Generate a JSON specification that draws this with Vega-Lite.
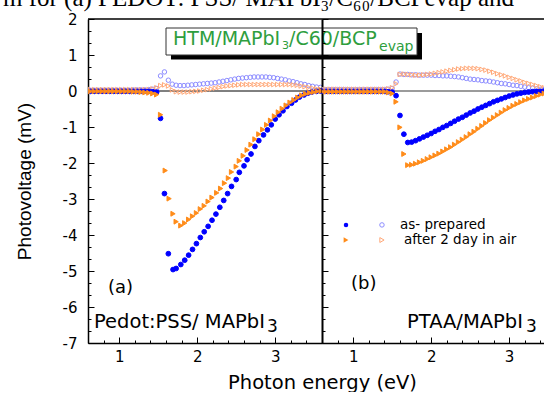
{
"$schema": "https://vega.github.io/schema/vega-lite/v6.json",
"background": "white",
"padding": {"left": 2, "top": -14, "right": 0, "bottom": 0},
"spacing": 0,
"bounds": "flush",
"config": {"view": {"stroke": null}, "font": "DejaVu Sans",
  "axis": {"grid": false, "domainColor": "black", "domainWidth": 1.5, "tickColor": "black", "tickWidth": 1, "labelColor": "black", "labelFont": "DejaVu Sans", "labelFontSize": 15, "labelOverlap": false, "labelBound": false, "labelFlush": false, "titleColor": "black", "titleFontWeight": "normal", "tickCount": 1000}},
"datasets": {
"a": [
{"s":"AO","x":0.63,"y":0.02},{"s":"AO","x":0.68,"y":0.02},{"s":"AO","x":0.73,"y":0.02},{"s":"AO","x":0.78,"y":0.02},{"s":"AO","x":0.83,"y":0.02},{"s":"AO","x":0.88,"y":0.02},{"s":"AO","x":0.93,"y":0.02},{"s":"AO","x":0.98,"y":0.02},{"s":"AO","x":1.03,"y":0.02},{"s":"AO","x":1.08,"y":0.02},{"s":"AO","x":1.13,"y":0.02},{"s":"AO","x":1.18,"y":0.03},{"s":"AO","x":1.23,"y":0.03},{"s":"AO","x":1.28,"y":0.03},{"s":"AO","x":1.33,"y":0.03},{"s":"AO","x":1.38,"y":0.04},{"s":"AO","x":1.43,"y":0.05},{"s":"AO","x":1.48,"y":0.07},
{"s":"AO","x":1.53,"y":0.42},{"s":"AO","x":1.58,"y":0.53},{"s":"AO","x":1.63,"y":0.30},{"s":"AO","x":1.68,"y":0.19},{"s":"AO","x":1.73,"y":0.16},{"s":"AO","x":1.78,"y":0.15},{"s":"AO","x":1.83,"y":0.15},{"s":"AO","x":1.88,"y":0.16},{"s":"AO","x":1.93,"y":0.17},{"s":"AO","x":1.98,"y":0.18},{"s":"AO","x":2.03,"y":0.19},{"s":"AO","x":2.08,"y":0.20},{"s":"AO","x":2.13,"y":0.21},{"s":"AO","x":2.18,"y":0.22},{"s":"AO","x":2.23,"y":0.23},{"s":"AO","x":2.28,"y":0.25},{"s":"AO","x":2.33,"y":0.27},{"s":"AO","x":2.38,"y":0.29},{"s":"AO","x":2.43,"y":0.31},{"s":"AO","x":2.48,"y":0.33},{"s":"AO","x":2.53,"y":0.35},{"s":"AO","x":2.58,"y":0.36},{"s":"AO","x":2.63,"y":0.37},{"s":"AO","x":2.68,"y":0.38},{"s":"AO","x":2.73,"y":0.39},{"s":"AO","x":2.78,"y":0.39},{"s":"AO","x":2.83,"y":0.39},{"s":"AO","x":2.88,"y":0.39},{"s":"AO","x":2.93,"y":0.38},{"s":"AO","x":2.98,"y":0.37},{"s":"AO","x":3.03,"y":0.35},{"s":"AO","x":3.08,"y":0.33},{"s":"AO","x":3.13,"y":0.31},{"s":"AO","x":3.18,"y":0.28},{"s":"AO","x":3.23,"y":0.26},{"s":"AO","x":3.28,"y":0.23},{"s":"AO","x":3.33,"y":0.20},{"s":"AO","x":3.38,"y":0.18},{"s":"AO","x":3.43,"y":0.15},{"s":"AO","x":3.48,"y":0.13},{"s":"AO","x":3.53,"y":0.11},{"s":"AO","x":3.58,"y":0.10},
{"s":"TO","x":0.63,"y":0.04},{"s":"TO","x":0.68,"y":0.04},{"s":"TO","x":0.73,"y":0.04},{"s":"TO","x":0.78,"y":0.04},{"s":"TO","x":0.83,"y":0.04},{"s":"TO","x":0.88,"y":0.04},{"s":"TO","x":0.93,"y":0.04},{"s":"TO","x":0.98,"y":0.04},{"s":"TO","x":1.03,"y":0.04},{"s":"TO","x":1.08,"y":0.04},{"s":"TO","x":1.13,"y":0.04},{"s":"TO","x":1.18,"y":0.04},{"s":"TO","x":1.23,"y":0.04},{"s":"TO","x":1.28,"y":0.04},{"s":"TO","x":1.33,"y":0.04},{"s":"TO","x":1.38,"y":0.04},{"s":"TO","x":1.43,"y":0.06},{"s":"TO","x":1.48,"y":0.09},
{"s":"TO","x":1.53,"y":0.15},{"s":"TO","x":1.58,"y":0.17},{"s":"TO","x":1.63,"y":0.14},{"s":"TO","x":1.68,"y":0.03},{"s":"TO","x":1.73,"y":-0.02},{"s":"TO","x":1.78,"y":-0.03},{"s":"TO","x":1.83,"y":-0.03},{"s":"TO","x":1.88,"y":-0.03},{"s":"TO","x":1.93,"y":-0.02},{"s":"TO","x":1.98,"y":-0.01},{"s":"TO","x":2.03,"y":0.0},{"s":"TO","x":2.08,"y":0.02},{"s":"TO","x":2.13,"y":0.04},{"s":"TO","x":2.18,"y":0.06},{"s":"TO","x":2.23,"y":0.08},{"s":"TO","x":2.28,"y":0.10},{"s":"TO","x":2.33,"y":0.12},{"s":"TO","x":2.38,"y":0.14},{"s":"TO","x":2.43,"y":0.15},{"s":"TO","x":2.48,"y":0.16},{"s":"TO","x":2.53,"y":0.17},{"s":"TO","x":2.58,"y":0.18},{"s":"TO","x":2.63,"y":0.18},{"s":"TO","x":2.68,"y":0.18},{"s":"TO","x":2.73,"y":0.18},{"s":"TO","x":2.78,"y":0.18},{"s":"TO","x":2.83,"y":0.18},{"s":"TO","x":2.88,"y":0.18},{"s":"TO","x":2.93,"y":0.18},{"s":"TO","x":2.98,"y":0.18},{"s":"TO","x":3.03,"y":0.18},{"s":"TO","x":3.08,"y":0.18},{"s":"TO","x":3.13,"y":0.18},{"s":"TO","x":3.18,"y":0.18},{"s":"TO","x":3.23,"y":0.17},{"s":"TO","x":3.28,"y":0.16},{"s":"TO","x":3.33,"y":0.14},{"s":"TO","x":3.38,"y":0.12},{"s":"TO","x":3.43,"y":0.10},{"s":"TO","x":3.48,"y":0.08},{"s":"TO","x":3.53,"y":0.06},{"s":"TO","x":3.58,"y":0.05},
{"s":"AF","x":0.63,"y":-0.01},{"s":"AF","x":0.68,"y":-0.01},{"s":"AF","x":0.73,"y":-0.01},{"s":"AF","x":0.78,"y":-0.01},{"s":"AF","x":0.83,"y":-0.01},{"s":"AF","x":0.88,"y":-0.01},{"s":"AF","x":0.93,"y":-0.01},{"s":"AF","x":0.98,"y":-0.01},{"s":"AF","x":1.03,"y":-0.01},{"s":"AF","x":1.08,"y":-0.01},{"s":"AF","x":1.13,"y":-0.01},{"s":"AF","x":1.18,"y":-0.01},{"s":"AF","x":1.23,"y":-0.01},{"s":"AF","x":1.28,"y":-0.01},{"s":"AF","x":1.33,"y":-0.01},{"s":"AF","x":1.38,"y":-0.01},{"s":"AF","x":1.43,"y":-0.02},{"s":"AF","x":1.48,"y":-0.03},
{"s":"AF","x":1.53,"y":-0.76},{"s":"AF","x":1.58,"y":-2.85},{"s":"AF","x":1.63,"y":-4.52},{"s":"AF","x":1.69,"y":-4.96},{"s":"AF","x":1.73,"y":-4.93},{"s":"AF","x":1.79,"y":-4.82},{"s":"AF","x":1.84,"y":-4.70},{"s":"AF","x":1.89,"y":-4.56},{"s":"AF","x":1.94,"y":-4.40},{"s":"AF","x":1.99,"y":-4.24},{"s":"AF","x":2.04,"y":-4.07},{"s":"AF","x":2.09,"y":-3.91},{"s":"AF","x":2.14,"y":-3.76},{"s":"AF","x":2.19,"y":-3.59},{"s":"AF","x":2.24,"y":-3.42},{"s":"AF","x":2.29,"y":-3.23},{"s":"AF","x":2.34,"y":-3.04},{"s":"AF","x":2.39,"y":-2.85},{"s":"AF","x":2.44,"y":-2.65},{"s":"AF","x":2.50,"y":-2.46},{"s":"AF","x":2.54,"y":-2.26},{"s":"AF","x":2.60,"y":-2.08},{"s":"AF","x":2.64,"y":-1.91},{"s":"AF","x":2.69,"y":-1.75},{"s":"AF","x":2.74,"y":-1.54},{"s":"AF","x":2.79,"y":-1.38},{"s":"AF","x":2.85,"y":-1.22},{"s":"AF","x":2.90,"y":-1.08},{"s":"AF","x":2.95,"y":-0.94},{"s":"AF","x":3.00,"y":-0.78},{"s":"AF","x":3.05,"y":-0.66},{"s":"AF","x":3.10,"y":-0.55},{"s":"AF","x":3.15,"y":-0.43},{"s":"AF","x":3.21,"y":-0.34},{"s":"AF","x":3.26,"y":-0.25},{"s":"AF","x":3.31,"y":-0.17},{"s":"AF","x":3.37,"y":-0.11},{"s":"AF","x":3.42,"y":-0.06},{"s":"AF","x":3.47,"y":-0.03},{"s":"AF","x":3.53,"y":-0.01},{"s":"AF","x":3.58,"y":0.0},
{"s":"TF","x":0.63,"y":-0.01},{"s":"TF","x":0.68,"y":-0.01},{"s":"TF","x":0.73,"y":-0.01},{"s":"TF","x":0.78,"y":-0.01},{"s":"TF","x":0.83,"y":-0.01},{"s":"TF","x":0.88,"y":-0.01},{"s":"TF","x":0.93,"y":-0.01},{"s":"TF","x":0.98,"y":-0.01},{"s":"TF","x":1.03,"y":-0.01},{"s":"TF","x":1.08,"y":-0.01},{"s":"TF","x":1.13,"y":-0.01},{"s":"TF","x":1.18,"y":-0.02},{"s":"TF","x":1.23,"y":-0.02},{"s":"TF","x":1.28,"y":-0.03},{"s":"TF","x":1.33,"y":-0.04},{"s":"TF","x":1.38,"y":-0.05},{"s":"TF","x":1.43,"y":-0.07},{"s":"TF","x":1.48,"y":-0.10},
{"s":"TF","x":1.53,"y":-0.66},{"s":"TF","x":1.59,"y":-2.21},{"s":"TF","x":1.64,"y":-2.99},{"s":"TF","x":1.69,"y":-3.41},{"s":"TF","x":1.73,"y":-3.63},{"s":"TF","x":1.79,"y":-3.74},{"s":"TF","x":1.84,"y":-3.67},{"s":"TF","x":1.89,"y":-3.57},{"s":"TF","x":1.94,"y":-3.48},{"s":"TF","x":1.99,"y":-3.39},{"s":"TF","x":2.04,"y":-3.28},{"s":"TF","x":2.09,"y":-3.19},{"s":"TF","x":2.14,"y":-3.07},{"s":"TF","x":2.19,"y":-2.96},{"s":"TF","x":2.25,"y":-2.83},{"s":"TF","x":2.30,"y":-2.71},{"s":"TF","x":2.35,"y":-2.56},{"s":"TF","x":2.40,"y":-2.42},{"s":"TF","x":2.44,"y":-2.25},{"s":"TF","x":2.50,"y":-2.10},{"s":"TF","x":2.54,"y":-1.94},{"s":"TF","x":2.59,"y":-1.80},{"s":"TF","x":2.64,"y":-1.64},{"s":"TF","x":2.69,"y":-1.49},{"s":"TF","x":2.74,"y":-1.34},{"s":"TF","x":2.79,"y":-1.20},{"s":"TF","x":2.84,"y":-1.07},{"s":"TF","x":2.89,"y":-0.94},{"s":"TF","x":2.94,"y":-0.82},{"s":"TF","x":2.99,"y":-0.70},{"s":"TF","x":3.04,"y":-0.59},{"s":"TF","x":3.09,"y":-0.49},{"s":"TF","x":3.14,"y":-0.40},{"s":"TF","x":3.19,"y":-0.32},{"s":"TF","x":3.24,"y":-0.25},{"s":"TF","x":3.29,"y":-0.18},{"s":"TF","x":3.34,"y":-0.12},{"s":"TF","x":3.39,"y":-0.08},{"s":"TF","x":3.44,"y":-0.05},{"s":"TF","x":3.49,"y":-0.03},{"s":"TF","x":3.54,"y":-0.01},{"s":"TF","x":3.59,"y":0.0}
],
"b": [
{"s":"AO","x":0.60,"y":0.04},{"s":"AO","x":0.65,"y":0.04},{"s":"AO","x":0.70,"y":0.04},{"s":"AO","x":0.75,"y":0.04},{"s":"AO","x":0.80,"y":0.04},{"s":"AO","x":0.85,"y":0.04},{"s":"AO","x":0.90,"y":0.04},{"s":"AO","x":0.95,"y":0.04},{"s":"AO","x":1.00,"y":0.04},{"s":"AO","x":1.05,"y":0.04},{"s":"AO","x":1.10,"y":0.04},{"s":"AO","x":1.15,"y":0.04},{"s":"AO","x":1.20,"y":0.04},{"s":"AO","x":1.25,"y":0.04},{"s":"AO","x":1.30,"y":0.04},{"s":"AO","x":1.35,"y":0.04},{"s":"AO","x":1.40,"y":0.04},{"s":"AO","x":1.45,"y":0.05},{"s":"AO","x":1.50,"y":0.07},
{"s":"AO","x":1.55,"y":0.25},{"s":"AO","x":1.60,"y":0.47},{"s":"AO","x":1.65,"y":0.46},{"s":"AO","x":1.70,"y":0.46},{"s":"AO","x":1.75,"y":0.45},{"s":"AO","x":1.80,"y":0.45},{"s":"AO","x":1.85,"y":0.44},{"s":"AO","x":1.90,"y":0.44},{"s":"AO","x":1.95,"y":0.44},{"s":"AO","x":2.00,"y":0.44},{"s":"AO","x":2.05,"y":0.43},{"s":"AO","x":2.10,"y":0.43},{"s":"AO","x":2.15,"y":0.42},{"s":"AO","x":2.20,"y":0.42},{"s":"AO","x":2.25,"y":0.41},{"s":"AO","x":2.30,"y":0.40},{"s":"AO","x":2.35,"y":0.39},{"s":"AO","x":2.40,"y":0.37},{"s":"AO","x":2.45,"y":0.35},{"s":"AO","x":2.50,"y":0.33},{"s":"AO","x":2.55,"y":0.32},{"s":"AO","x":2.60,"y":0.31},{"s":"AO","x":2.65,"y":0.29},{"s":"AO","x":2.70,"y":0.28},{"s":"AO","x":2.75,"y":0.27},{"s":"AO","x":2.80,"y":0.25},{"s":"AO","x":2.85,"y":0.23},{"s":"AO","x":2.90,"y":0.21},{"s":"AO","x":2.95,"y":0.20},{"s":"AO","x":3.00,"y":0.18},{"s":"AO","x":3.05,"y":0.16},{"s":"AO","x":3.10,"y":0.15},{"s":"AO","x":3.15,"y":0.13},{"s":"AO","x":3.20,"y":0.11},{"s":"AO","x":3.25,"y":0.09},{"s":"AO","x":3.30,"y":0.08},{"s":"AO","x":3.35,"y":0.06},{"s":"AO","x":3.40,"y":0.05},{"s":"AO","x":3.45,"y":0.04},
{"s":"TO","x":0.60,"y":0.05},{"s":"TO","x":0.65,"y":0.05},{"s":"TO","x":0.70,"y":0.05},{"s":"TO","x":0.75,"y":0.05},{"s":"TO","x":0.80,"y":0.05},{"s":"TO","x":0.85,"y":0.05},{"s":"TO","x":0.90,"y":0.05},{"s":"TO","x":0.95,"y":0.05},{"s":"TO","x":1.00,"y":0.05},{"s":"TO","x":1.05,"y":0.05},{"s":"TO","x":1.10,"y":0.05},{"s":"TO","x":1.15,"y":0.05},{"s":"TO","x":1.20,"y":0.05},{"s":"TO","x":1.25,"y":0.05},{"s":"TO","x":1.30,"y":0.05},{"s":"TO","x":1.35,"y":0.05},{"s":"TO","x":1.40,"y":0.05},{"s":"TO","x":1.45,"y":0.06},{"s":"TO","x":1.50,"y":0.09},
{"s":"TO","x":1.55,"y":0.20},{"s":"TO","x":1.60,"y":0.46},{"s":"TO","x":1.65,"y":0.47},{"s":"TO","x":1.70,"y":0.46},{"s":"TO","x":1.75,"y":0.45},{"s":"TO","x":1.80,"y":0.44},{"s":"TO","x":1.85,"y":0.44},{"s":"TO","x":1.90,"y":0.45},{"s":"TO","x":1.95,"y":0.46},{"s":"TO","x":2.00,"y":0.47},{"s":"TO","x":2.05,"y":0.49},{"s":"TO","x":2.10,"y":0.51},{"s":"TO","x":2.15,"y":0.53},{"s":"TO","x":2.20,"y":0.55},{"s":"TO","x":2.25,"y":0.57},{"s":"TO","x":2.30,"y":0.59},{"s":"TO","x":2.35,"y":0.61},{"s":"TO","x":2.40,"y":0.62},{"s":"TO","x":2.45,"y":0.63},{"s":"TO","x":2.50,"y":0.63},{"s":"TO","x":2.55,"y":0.63},{"s":"TO","x":2.60,"y":0.62},{"s":"TO","x":2.65,"y":0.60},{"s":"TO","x":2.70,"y":0.58},{"s":"TO","x":2.75,"y":0.55},{"s":"TO","x":2.80,"y":0.52},{"s":"TO","x":2.85,"y":0.48},{"s":"TO","x":2.90,"y":0.45},{"s":"TO","x":2.95,"y":0.42},{"s":"TO","x":3.00,"y":0.38},{"s":"TO","x":3.05,"y":0.35},{"s":"TO","x":3.10,"y":0.31},{"s":"TO","x":3.15,"y":0.28},{"s":"TO","x":3.20,"y":0.24},{"s":"TO","x":3.25,"y":0.21},{"s":"TO","x":3.30,"y":0.18},{"s":"TO","x":3.35,"y":0.15},{"s":"TO","x":3.40,"y":0.12},{"s":"TO","x":3.45,"y":0.09},
{"s":"AF","x":0.60,"y":-0.01},{"s":"AF","x":0.65,"y":-0.01},{"s":"AF","x":0.70,"y":-0.01},{"s":"AF","x":0.75,"y":-0.01},{"s":"AF","x":0.80,"y":-0.01},{"s":"AF","x":0.85,"y":-0.01},{"s":"AF","x":0.90,"y":-0.01},{"s":"AF","x":0.95,"y":-0.01},{"s":"AF","x":1.00,"y":-0.01},{"s":"AF","x":1.05,"y":-0.01},{"s":"AF","x":1.10,"y":-0.01},{"s":"AF","x":1.15,"y":-0.01},{"s":"AF","x":1.20,"y":-0.01},{"s":"AF","x":1.25,"y":-0.01},{"s":"AF","x":1.30,"y":-0.01},{"s":"AF","x":1.35,"y":-0.01},{"s":"AF","x":1.40,"y":-0.01},{"s":"AF","x":1.45,"y":-0.02},{"s":"AF","x":1.50,"y":-0.03},
{"s":"AF","x":1.55,"y":-0.13},{"s":"AF","x":1.60,"y":-0.68},{"s":"AF","x":1.65,"y":-1.20},{"s":"AF","x":1.70,"y":-1.43},{"s":"AF","x":1.75,"y":-1.42},{"s":"AF","x":1.80,"y":-1.38},{"s":"AF","x":1.85,"y":-1.33},{"s":"AF","x":1.90,"y":-1.28},{"s":"AF","x":1.95,"y":-1.23},{"s":"AF","x":2.00,"y":-1.18},{"s":"AF","x":2.05,"y":-1.12},{"s":"AF","x":2.10,"y":-1.07},{"s":"AF","x":2.15,"y":-1.01},{"s":"AF","x":2.20,"y":-0.96},{"s":"AF","x":2.25,"y":-0.90},{"s":"AF","x":2.30,"y":-0.84},{"s":"AF","x":2.35,"y":-0.78},{"s":"AF","x":2.40,"y":-0.73},{"s":"AF","x":2.45,"y":-0.67},{"s":"AF","x":2.50,"y":-0.61},{"s":"AF","x":2.55,"y":-0.56},{"s":"AF","x":2.60,"y":-0.50},{"s":"AF","x":2.65,"y":-0.45},{"s":"AF","x":2.70,"y":-0.40},{"s":"AF","x":2.75,"y":-0.35},{"s":"AF","x":2.80,"y":-0.30},{"s":"AF","x":2.85,"y":-0.26},{"s":"AF","x":2.90,"y":-0.22},{"s":"AF","x":2.95,"y":-0.18},{"s":"AF","x":3.00,"y":-0.14},{"s":"AF","x":3.05,"y":-0.11},{"s":"AF","x":3.10,"y":-0.08},{"s":"AF","x":3.15,"y":-0.06},{"s":"AF","x":3.20,"y":-0.04},{"s":"AF","x":3.25,"y":-0.03},{"s":"AF","x":3.30,"y":-0.02},{"s":"AF","x":3.35,"y":-0.01},{"s":"AF","x":3.40,"y":-0.01},{"s":"AF","x":3.45,"y":0.0},
{"s":"TF","x":0.60,"y":-0.02},{"s":"TF","x":0.65,"y":-0.02},{"s":"TF","x":0.70,"y":-0.02},{"s":"TF","x":0.75,"y":-0.02},{"s":"TF","x":0.80,"y":-0.02},{"s":"TF","x":0.85,"y":-0.02},{"s":"TF","x":0.90,"y":-0.02},{"s":"TF","x":0.95,"y":-0.02},{"s":"TF","x":1.00,"y":-0.02},{"s":"TF","x":1.05,"y":-0.02},{"s":"TF","x":1.10,"y":-0.02},{"s":"TF","x":1.15,"y":-0.02},{"s":"TF","x":1.20,"y":-0.02},{"s":"TF","x":1.25,"y":-0.02},{"s":"TF","x":1.30,"y":-0.02},{"s":"TF","x":1.35,"y":-0.02},{"s":"TF","x":1.40,"y":-0.02},{"s":"TF","x":1.45,"y":-0.04},{"s":"TF","x":1.50,"y":-0.07},
{"s":"TF","x":1.55,"y":-0.30},{"s":"TF","x":1.60,"y":-1.01},{"s":"TF","x":1.65,"y":-1.75},{"s":"TF","x":1.70,"y":-2.06},{"s":"TF","x":1.75,"y":-2.05},{"s":"TF","x":1.80,"y":-2.02},{"s":"TF","x":1.85,"y":-1.98},{"s":"TF","x":1.90,"y":-1.94},{"s":"TF","x":1.95,"y":-1.89},{"s":"TF","x":2.00,"y":-1.84},{"s":"TF","x":2.05,"y":-1.79},{"s":"TF","x":2.10,"y":-1.74},{"s":"TF","x":2.15,"y":-1.68},{"s":"TF","x":2.20,"y":-1.62},{"s":"TF","x":2.25,"y":-1.56},{"s":"TF","x":2.30,"y":-1.49},{"s":"TF","x":2.35,"y":-1.42},{"s":"TF","x":2.40,"y":-1.35},{"s":"TF","x":2.45,"y":-1.28},{"s":"TF","x":2.50,"y":-1.20},{"s":"TF","x":2.55,"y":-1.13},{"s":"TF","x":2.60,"y":-1.05},{"s":"TF","x":2.65,"y":-0.97},{"s":"TF","x":2.70,"y":-0.89},{"s":"TF","x":2.75,"y":-0.81},{"s":"TF","x":2.80,"y":-0.74},{"s":"TF","x":2.85,"y":-0.67},{"s":"TF","x":2.90,"y":-0.60},{"s":"TF","x":2.95,"y":-0.53},{"s":"TF","x":3.00,"y":-0.47},{"s":"TF","x":3.05,"y":-0.41},{"s":"TF","x":3.10,"y":-0.36},{"s":"TF","x":3.15,"y":-0.31},{"s":"TF","x":3.20,"y":-0.26},{"s":"TF","x":3.25,"y":-0.22},{"s":"TF","x":3.30,"y":-0.18},{"s":"TF","x":3.35,"y":-0.14},{"s":"TF","x":3.40,"y":-0.10},{"s":"TF","x":3.45,"y":-0.07}
]
},
"hconcat": [
{
 "width": 234, "height": 324,
 "data": {"name": "a"},
 "layer": [
  {"data": {"values": [{}]}, "mark": {"type": "rule", "color": "black", "strokeWidth": 1}, "encoding": {"y": {"datum": 0, "type": "quantitative"}}},
  {"data": {"values": [{}]}, "mark": {"type": "rule", "color": "black", "strokeWidth": 1.5}, "encoding": {"y": {"datum": 2, "type": "quantitative"}}},
  {"mark": {"type": "point", "opacity": 1, "strokeWidth": 1, "clip": true},
   "encoding": {
    "x": {"field": "x", "type": "quantitative", "scale": {"domain": [0.6, 3.6], "nice": false, "zero": false},
      "axis": {"values": [0.6,0.8,1,1.2,1.4,1.6,1.8,2,2.2,2.4,2.6,2.8,3,3.2,3.4,3.6], "tickCount": 1000,
        "labelExpr": "abs(datum.value-round(datum.value))<0.01 ? ''+round(datum.value) : ''",
        "tickSize": {"condition": {"test": "abs(datum.value-round(datum.value))<0.01", "value": -6}, "value": -3},
        "labelPadding": 12, "title": null}},
    "y": {"field": "y", "type": "quantitative", "scale": {"domain": [-7, 2], "nice": false, "zero": false},
      "axis": {"values": [-7,-6.6667,-6.3333,-6,-5.6667,-5.3333,-5,-4.6667,-4.3333,-4,-3.6667,-3.3333,-3,-2.6667,-2.3333,-2,-1.6667,-1.3333,-1,-0.6667,-0.3333,0,0.3333,0.6667,1,1.3333,1.6667,2], "tickCount": 1000,
        "labelExpr": "abs(datum.value-round(datum.value))<0.01 ? ''+round(datum.value) : ''",
        "tickSize": {"condition": {"test": "abs(datum.value-round(datum.value))<0.01", "value": -6}, "value": -3},
        "labelPadding": 17, "title": "Photovoltage (mV)", "titleFont": "Liberation Sans", "titleFontSize": 19, "titlePadding": 28}},
    "shape": {"field": "s", "type": "nominal", "scale": {"domain": ["AO","TO","AF","TF"], "range": ["circle","triangle-right","circle","triangle-right"]}, "legend": null},
    "fill": {"field": "s", "type": "nominal", "scale": {"domain": ["AO","TO","AF","TF"], "range": ["transparent","transparent","#0000ff","#ff8c1a"]}, "legend": null},
    "stroke": {"field": "s", "type": "nominal", "scale": {"domain": ["AO","TO","AF","TF"], "range": ["#8c8cff","#ffa878","#0000ff","#ff8c1a"]}, "legend": null},
    "size": {"field": "s", "type": "nominal", "scale": {"domain": ["AO","TO","AF","TF"], "range": [20,24,20,30]}, "legend": null}
   }},
  {"data": {"values": [{}]}, "mark": {"type": "rect", "fill": "black"}, "encoding": {"x": {"datum": 1.664}, "x2": {"datum": 4.882}, "y": {"datum": 1.61}, "y2": {"datum": 0.875}}},
  {"data": {"values": [{}]}, "mark": {"type": "rect", "fill": "white", "stroke": "#333333", "strokeWidth": 1}, "encoding": {"x": {"datum": 1.6}, "x2": {"datum": 4.818}, "y": {"datum": 1.75}, "y2": {"datum": 1.0}}},
  {"data": {"values": [{}]}, "mark": {"type": "text", "text": "HTM/MAPbI", "align": "left", "baseline": "alphabetic", "font": "DejaVu Sans", "fontSize": 19, "color": "#2e9e3e"}, "encoding": {"x": {"datum": 1.69}, "y": {"datum": 1.278}}},
  {"data": {"values": [{}]}, "mark": {"type": "text", "text": "3", "align": "left", "baseline": "alphabetic", "font": "DejaVu Sans", "fontSize": 11, "color": "#2e9e3e"}, "encoding": {"x": {"datum": 3.087}, "y": {"datum": 1.167}}},
  {"data": {"values": [{}]}, "mark": {"type": "text", "text": "/C60/BCP", "align": "left", "baseline": "alphabetic", "font": "DejaVu Sans", "fontSize": 19, "color": "#2e9e3e"}, "encoding": {"x": {"datum": 3.177}, "y": {"datum": 1.278}}},
  {"data": {"values": [{}]}, "mark": {"type": "text", "text": "evap", "align": "left", "baseline": "alphabetic", "font": "DejaVu Sans", "fontSize": 14, "color": "#2e9e3e"}, "encoding": {"x": {"datum": 4.331}, "y": {"datum": 1.111}}},
  {"data": {"values": [{}]}, "mark": {"type": "text", "text": "(a)", "align": "left", "baseline": "alphabetic", "font": "DejaVu Sans", "fontSize": 18, "color": "black"}, "encoding": {"x": {"datum": 0.856}, "y": {"datum": -5.61}}},
  {"data": {"values": [{}]}, "mark": {"type": "text", "text": "Pedot:PSS/ MAPbI", "align": "left", "baseline": "alphabetic", "font": "DejaVu Sans", "fontSize": 19.5, "color": "black"}, "encoding": {"x": {"datum": 0.677}, "y": {"datum": -6.58}}},
  {"data": {"values": [{}]}, "mark": {"type": "text", "text": "3", "align": "left", "baseline": "alphabetic", "font": "DejaVu Sans", "fontSize": 17, "color": "black"}, "encoding": {"x": {"datum": 2.895}, "y": {"datum": -6.69}}},
  {"data": {"values": [{}]}, "mark": {"type": "text", "text": "m for (a) PEDOT: PSS/ MAPbI₃/C₆₀/BCPevap and", "align": "left", "baseline": "alphabetic", "font": "Liberation Serif", "fontSize": 25, "color": "black", "limit": 542, "ellipsis": ""}, "encoding": {"x": {"datum": -0.49}, "y": {"datum": 2.36}}}
 ]
},
{
 "width": 223, "height": 324,
 "data": {"name": "b"},
 "layer": [
  {"data": {"values": [{}]}, "mark": {"type": "rule", "color": "#7a7a7a", "strokeWidth": 1.5}, "encoding": {"y": {"datum": 0, "type": "quantitative"}}},
  {"data": {"values": [{}]}, "mark": {"type": "rule", "color": "black", "strokeWidth": 1.5}, "encoding": {"y": {"datum": 2, "type": "quantitative"}}},
  {"mark": {"type": "point", "opacity": 1, "strokeWidth": 1, "clip": true},
   "encoding": {
    "x": {"field": "x", "type": "quantitative", "scale": {"domain": [0.6, 3.46], "nice": false, "zero": false},
      "axis": {"values": [0.6,0.8,1,1.2,1.4,1.6,1.8,2,2.2,2.4,2.6,2.8,3,3.2,3.4], "tickCount": 1000,
        "labelExpr": "abs(datum.value-round(datum.value))<0.01 ? ''+round(datum.value) : ''",
        "tickSize": {"condition": {"test": "abs(datum.value-round(datum.value))<0.01", "value": -6}, "value": -3},
        "labelPadding": 12, "title": "Photon energy (eV)", "titleFont": "DejaVu Sans", "titleFontSize": 19.5, "titleAnchor": "start", "titleAlign": "center", "titlePadding": 6}},
    "y": {"field": "y", "type": "quantitative", "scale": {"domain": [-7, 2], "nice": false, "zero": false},
      "axis": {"values": [-7,-6.6667,-6.3333,-6,-5.6667,-5.3333,-5,-4.6667,-4.3333,-4,-3.6667,-3.3333,-3,-2.6667,-2.3333,-2,-1.6667,-1.3333,-1,-0.6667,-0.3333,0,0.3333,0.6667,1,1.3333,1.6667,2], "tickCount": 1000,
        "labels": false, "domainWidth": 2,
        "tickSize": {"condition": {"test": "abs(datum.value-round(datum.value))<0.01", "value": -6}, "value": -3},
        "title": null}},
    "shape": {"field": "s", "type": "nominal", "scale": {"domain": ["AO","TO","AF","TF"], "range": ["circle","triangle-right","circle","triangle-right"]}, "legend": null},
    "fill": {"field": "s", "type": "nominal", "scale": {"domain": ["AO","TO","AF","TF"], "range": ["transparent","transparent","#0000ff","#ff8c1a"]}, "legend": null},
    "stroke": {"field": "s", "type": "nominal", "scale": {"domain": ["AO","TO","AF","TF"], "range": ["#8c8cff","#ffa878","#0000ff","#ff8c1a"]}, "legend": null},
    "size": {"field": "s", "type": "nominal", "scale": {"domain": ["AO","TO","AF","TF"], "range": [20,24,20,30]}, "legend": null}
   }},
  {"data": {"values": [{}]}, "mark": {"type": "point", "shape": "circle", "filled": true, "color": "#0000ff", "size": 20, "opacity": 1}, "encoding": {"x": {"datum": 0.908}, "y": {"datum": -3.72}}},
  {"data": {"values": [{}]}, "mark": {"type": "point", "shape": "circle", "filled": false, "color": "#8c8cff", "size": 20, "opacity": 1, "strokeWidth": 1}, "encoding": {"x": {"datum": 1.369}, "y": {"datum": -3.72}}},
  {"data": {"values": [{}]}, "mark": {"type": "point", "shape": "triangle-right", "filled": true, "color": "#ff8c1a", "size": 30, "opacity": 1}, "encoding": {"x": {"datum": 0.908}, "y": {"datum": -4.14}}},
  {"data": {"values": [{}]}, "mark": {"type": "point", "shape": "triangle-right", "filled": false, "color": "#ffa878", "size": 24, "opacity": 1, "strokeWidth": 1}, "encoding": {"x": {"datum": 1.369}, "y": {"datum": -4.14}}},
  {"data": {"values": [{}]}, "mark": {"type": "text", "text": "as- prepared", "align": "left", "baseline": "middle", "font": "DejaVu Sans", "fontSize": 13.5, "color": "black"}, "encoding": {"x": {"datum": 1.6}, "y": {"datum": -3.72}}},
  {"data": {"values": [{}]}, "mark": {"type": "text", "text": "after 2 day in air", "align": "left", "baseline": "middle", "font": "DejaVu Sans", "fontSize": 13.5, "color": "black"}, "encoding": {"x": {"datum": 1.651}, "y": {"datum": -4.14}}},
  {"data": {"values": [{}]}, "mark": {"type": "text", "text": "(b)", "align": "left", "baseline": "alphabetic", "font": "DejaVu Sans", "fontSize": 18, "color": "black"}, "encoding": {"x": {"datum": 0.972}, "y": {"datum": -5.5}}},
  {"data": {"values": [{}]}, "mark": {"type": "text", "text": "PTAA/MAPbI", "align": "left", "baseline": "alphabetic", "font": "DejaVu Sans", "fontSize": 19.5, "color": "black"}, "encoding": {"x": {"datum": 1.69}, "y": {"datum": -6.58}}},
  {"data": {"values": [{}]}, "mark": {"type": "text", "text": "3", "align": "left", "baseline": "alphabetic", "font": "DejaVu Sans", "fontSize": 17, "color": "black"}, "encoding": {"x": {"datum": 3.215}, "y": {"datum": -6.69}}}
 ]
}
]
}
